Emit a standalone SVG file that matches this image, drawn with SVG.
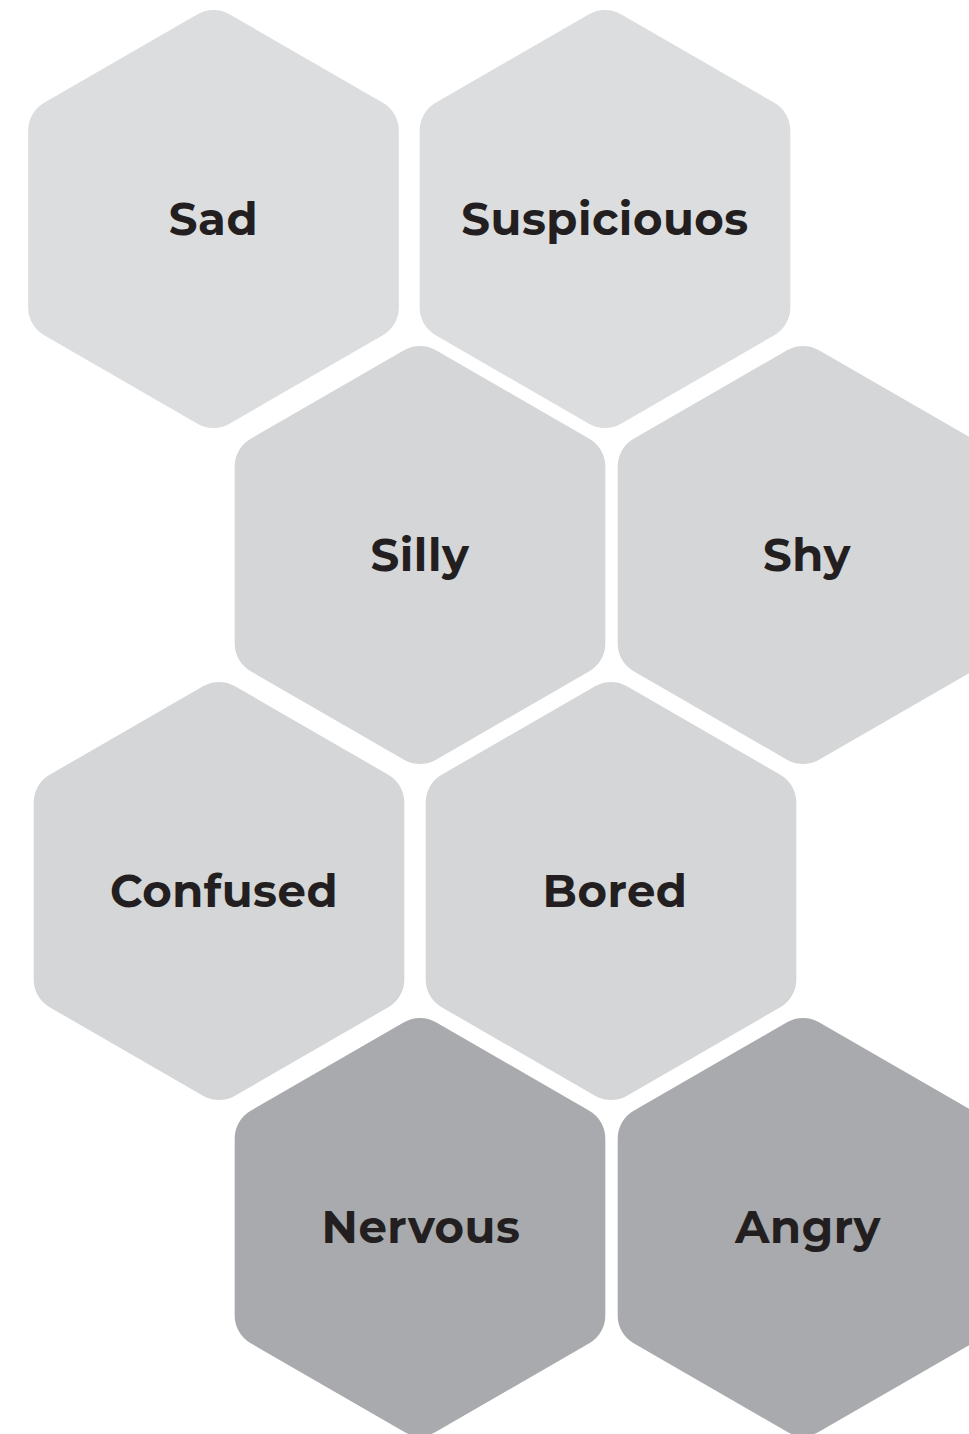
<svg xmlns="http://www.w3.org/2000/svg" xmlns:xlink="http://www.w3.org/1999/xlink" width="969" height="1434" viewBox="0 0 969 1434">
<style>
.light{fill:#dcdddf}
.mid{fill:#d5d6d8}
.dark{fill:#a9aaad}
.lbl{font-family:"Montserrat","Liberation Sans",Arial,sans-serif;font-weight:700;font-size:45px;letter-spacing:0.5px;fill:#231f20;text-anchor:middle}
</style>
<defs>
<path id="hex" d="M -16,-204.76 A 32 32 0 0 1 16,-204.76 L 169.33,-116.24 A 32 32 0 0 1 185.33,-88.52 L 185.33,88.52 A 32 32 0 0 1 169.33,116.24 L 16,204.76 A 32 32 0 0 1 -16,204.76 L -169.33,116.24 A 32 32 0 0 1 -185.33,88.52 L -185.33,-88.52 A 32 32 0 0 1 -169.33,-116.24 Z"/>
</defs>
<rect width="969" height="1434" fill="#ffffff"/>
<g id="sad"><use href="#hex" xlink:href="#hex" class="light" x="213.5" y="219"/><text class="lbl" x="213.5" y="235">Sad</text></g>
<g id="suspiciouos"><use href="#hex" xlink:href="#hex" class="light" x="605" y="219"/><text class="lbl" x="605" y="235">Suspiciouos</text></g>
<g id="silly"><use href="#hex" xlink:href="#hex" class="mid" x="420" y="555"/><text class="lbl" x="420" y="571">Silly</text></g>
<g id="shy"><use href="#hex" xlink:href="#hex" class="mid" x="803" y="555"/><text class="lbl" x="807" y="571">Shy</text></g>
<g id="confused"><use href="#hex" xlink:href="#hex" class="mid" x="219" y="891"/><text class="lbl" x="224" y="907">Confused</text></g>
<g id="bored"><use href="#hex" xlink:href="#hex" class="mid" x="611" y="891"/><text class="lbl" x="615" y="907">Bored</text></g>
<g id="nervous"><use href="#hex" xlink:href="#hex" class="dark" x="420" y="1227"/><text class="lbl" x="421" y="1243">Nervous</text></g>
<g id="angry"><use href="#hex" xlink:href="#hex" class="dark" x="803" y="1227"/><text class="lbl" x="808" y="1243">Angry</text></g>
<g id="connectors"/>
</svg>
